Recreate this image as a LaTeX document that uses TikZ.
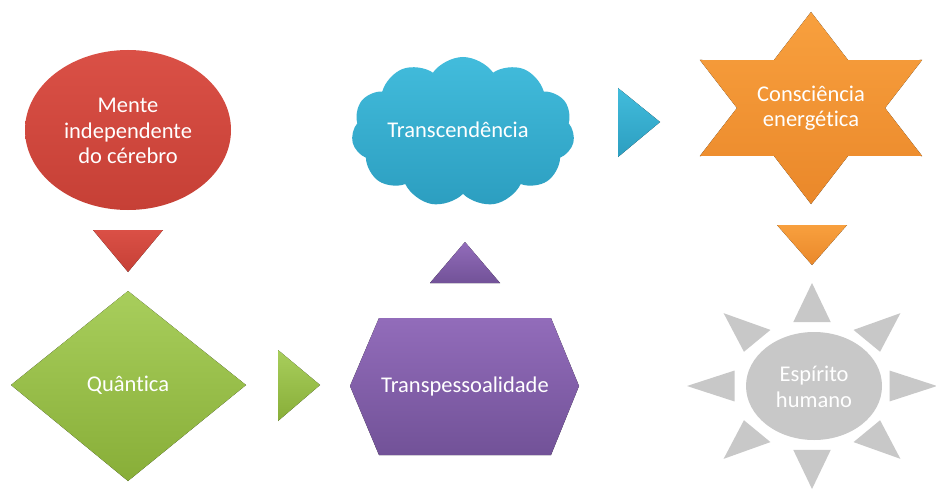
\documentclass[tikz,border=0pt]{standalone}
\usepackage{fontspec}
\setmainfont{Carlito}[Ligatures=NoCommon]
\usetikzlibrary{shapes.symbols,shapes.geometric}
\definecolor{redT}{RGB}{218,80,70}
\definecolor{redB}{RGB}{198,64,54}
\definecolor{grnT}{RGB}{168,206,92}
\definecolor{grnB}{RGB}{136,174,56}
\definecolor{purT}{RGB}{146,108,186}
\definecolor{purB}{RGB}{114,82,152}
\definecolor{bluT}{RGB}{66,188,220}
\definecolor{bluB}{RGB}{44,158,192}
\definecolor{oraT}{RGB}{248,160,62}
\definecolor{oraB}{RGB}{234,136,42}
\definecolor{sunG}{RGB}{200,200,200}
\tikzset{
  lbl/.style={text=white, align=center, font=\fontsize{22.5}{25.5}\selectfont, inner sep=0pt},
  redf/.style={top color=redT, bottom color=redB, draw=none},
  grnf/.style={top color=grnT, bottom color=grnB, draw=none},
  purf/.style={top color=purT, bottom color=purB, draw=none},
  bluf/.style={top color=bluT, bottom color=bluB, draw=none},
  oraf/.style={top color=oraT, bottom color=oraB, draw=none},
  sunf/.style={fill=sunG, draw=none}
}
\begin{document}
\begin{tikzpicture}[x=1pt,y=-1pt]
\useasboundingbox[fill=white] (0,0) rectangle (936,492);
% Mente independente do cerebro
\node[ellipse, redf, minimum width=206pt, minimum height=160pt, inner sep=0pt] (menteshape) at (128,130) {};
\node[lbl] (mente) at (128,131) {Mente\\independente\\do cérebro};
\fill[redf] (93,230) -- (163,230) -- (128,272) -- cycle;
% Quantica
\fill[grnf] (11,385) -- (128,291) -- (246,385) -- (128,481) -- cycle;
\node[lbl] (quant) at (128,385) {Quântica};
\fill[grnf] (278,350) -- (278,421) -- (320,385) -- cycle;
% Transpessoalidade
\fill[purf] (350,386) -- (379,318) -- (551,318) -- (579,386) -- (551,455) -- (379,455) -- cycle;
\node[lbl] (transp) at (465,386) {Transpessoalidade};
\fill[purf] (430,283) -- (500,283) -- (465,242) -- cycle;
% Transcendencia
\node[cloud, bluf, cloud puffs=11, cloud puff arc=110, aspect=1.5, minimum width=223pt, minimum height=150pt, inner sep=0pt] (cloudshape) at (463,132) {};
\node[lbl] (transc) at (458,130) {Transcendência};
\fill[bluf] (618,88) -- (618,157) -- (660,122) -- cycle;
% Consciencia energetica (six-pointed star)
\begin{scope}[shift={(811,108)}, x=128.3pt, y=96pt]
  \fill[oraf] (90:1) -- (60:0.577) -- (30:1) -- (0:0.577) -- (-30:1) -- (-60:0.577)
    -- (-90:1) -- (-120:0.577) -- (-150:1) -- (180:0.577) -- (150:1) -- (120:0.577) -- cycle;
\end{scope}
\node[lbl] (consc) at (811,108) {Consciência\\energética};
\fill[oraf] (777,225) -- (847,225) -- (812,265) -- cycle;
% Espirito humano (sun)
\begin{scope}[shift={(812,386)}, x=125pt, y=103pt]
  \foreach \a in {0,45,...,315} {
    \fill[sunf] (\a:1) -- (\a+13.6:0.638) -- (\a-13.6:0.638) -- cycle;
  }
\end{scope}
\node[ellipse, sunf, minimum width=136pt, minimum height=108pt, inner sep=0pt] (sunshape) at (814,386) {};
\node[lbl] (esp) at (814,387) {Espírito\\humano};
\end{tikzpicture}
\end{document}
